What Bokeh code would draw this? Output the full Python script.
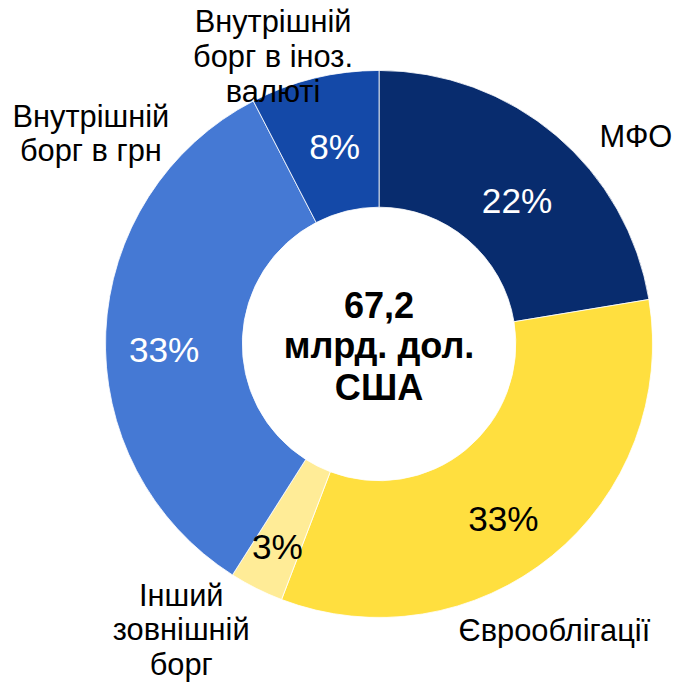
import math
from bokeh.plotting import figure
from bokeh.models import Range1d, ColumnDataSource
from bokeh.core.properties import value
from bokeh.embed import file_html
from bokeh.resources import INLINE

# ---- data ----
categories = ["МФО", "Єврооблігації", "Інший\nзовнішній\nборг",
              "Внутрішній\nборг в грн", "Внутрішній\nборг в іноз.\nвалюті"]
shares = [22.4, 33.4, 3.2, 33.4, 7.6]          # % of total debt
total_lines = ["67,2", "млрд. дол.", "США"]

# ---- styles ----
slice_colors = ["#082C6E", "#FFDF3F", "#FFEC97", "#4579D4", "#1449A8"]
pct_colors = ["white", "black", "black", "white", "white"]
pct_label_r = [204, 219, 232, 220, 207]
pct_label_nudge = [-3.5, -3.7, 0.0, 4.0, -1.0]   # degrees
# category label anchors (reference px: centre x, first line cap-centre y)
cat_pos = [(650.5, 139), (567, 645), (185, 608.5), (92.5, 118.5), (279, 22)]
CAT_LINE = 35.5
FONT = "Liberation Sans"

REF_W, REF_H = 692, 700          # frame the layout is designed in
W, H = 676, 684                  # figure size (fits window with 8px margin)
S = W / REF_W                    # px per frame unit
PCX, PCY = 387.5, 351.5          # ring centre in frame units
R_IN, R_OUT = 140, 280

def fs(px):
    return f"{px * S:.1f}px"

def dx(x):
    return x - PCX

def dy(y):
    return PCY - y

p = figure(width=W, height=H, output_backend="svg", toolbar_location=None,
           x_range=Range1d(dx(0), dx(REF_W)), y_range=Range1d(dy(REF_H), dy(0)),
           min_border=0)
p.axis.visible = False
p.grid.visible = False
p.outline_line_color = None
p.background_fill_color = "white"
p.border_fill_color = "white"

total = sum(shares)
starts, ends, mids = [], [], []
c = 0.0
for s in shares:
    a0 = math.pi / 2 - 2 * math.pi * c / total
    c += s
    a1 = math.pi / 2 - 2 * math.pi * c / total
    starts.append(a0)
    ends.append(a1)
    mids.append((a0 + a1) / 2)

src = ColumnDataSource(dict(start=starts, end=ends, color=slice_colors))
p.annular_wedge(x=0, y=0, inner_radius=R_IN, outer_radius=R_OUT,
                start_angle="start", end_angle="end", direction="clock",
                fill_color="color", line_color="white", line_width=0.8,
                source=src)

# percentage labels
px_, py_, pt = [], [], []
for m, r, n, s in zip(mids, pct_label_r, pct_label_nudge, shares):
    a = m + math.radians(n)
    px_.append(r * math.cos(a))
    py_.append(r * math.sin(a))
    pt.append(f"{round(100 * s / total)}%")
p.text(x=px_, y=py_, text=pt, text_color=pct_colors,
       text_font=value(FONT), text_font_size=fs(36),
       text_align="center", text_baseline="middle")

# category labels
cx, cy, ct = [], [], []
for cat, (x0, y0) in zip(categories, cat_pos):
    for i, line in enumerate(cat.split("\n")):
        cx.append(dx(x0))
        cy.append(dy(y0 + i * CAT_LINE))
        ct.append(line)
p.text(x=cx, y=cy, text=ct, text_color="black",
       text_font=value(FONT), text_font_size=fs(31.5),
       text_align="center", text_baseline="middle")

# centre total
center_mid = [311.5, 353.5, 396.5]
p.text(x=[0] * 3, y=[dy(b) for b in center_mid], text=total_lines,
       text_color="black", text_font=value(FONT), text_font_size=fs(37),
       text_font_style="bold", text_align="center", text_baseline="middle")

open("out.html", "w").write(file_html(p, INLINE))
